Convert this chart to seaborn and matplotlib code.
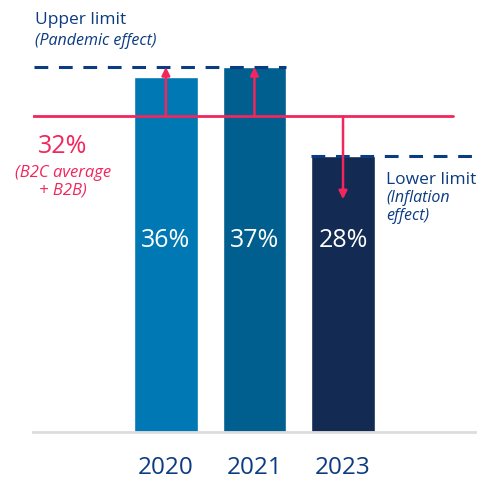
import matplotlib
matplotlib.use("Agg")
import matplotlib.pyplot as plt
import seaborn as sns
import pandas as pd

years = ["2020", "2021", "2023"]
values = [36, 37, 28]
bar_colors = ["#0078b4", "#005f8f", "#132a52"]
average = 32
upper_limit = 37
lower_limit = 28
down_arrow_end = 23.6

RED = "#f2255c"
BLUE = "#0b3b80"

sns.set_theme(style="white")
plt.rcParams['font.family'] = ['Open Sans', 'DejaVu Sans']

df = pd.DataFrame({"year": years, "value": values})

fig = plt.figure(figsize=(4.88, 4.79), dpi=100)
ax = fig.add_axes([33/488, 47/479, 442/488, 432/479])

sns.barplot(data=df, x="year", y="value", hue="year", palette=bar_colors,
            width=0.72, legend=False, ax=ax, saturation=1)

ax.set_xlim(-1.5, 3.49)
ax.set_ylim(0, 43.8)

for s in ["top", "right", "left"]:
    ax.spines[s].set_visible(False)
ax.spines["bottom"].set_color("#dddddd")
ax.spines["bottom"].set_linewidth(2)
ax.set_yticks([])
ax.set_xlabel("")
ax.set_ylabel("")
ax.tick_params(axis="x", length=0, pad=17, labelsize=17.5, labelcolor=BLUE)

# bar value labels
for i, v in enumerate(values):
    ax.text(i, 19.4, f"{v}%", ha="center", va="center", color="white", fontsize=18)

# dashed limit lines
ax.plot([-1.49, 1.36], [upper_limit, upper_limit], color=BLUE, lw=2.2,
        dashes=(4.5, 3.5), zorder=1)
ax.plot([1.64, 3.46], [lower_limit, lower_limit], color=BLUE, lw=2.2,
        dashes=(4.5, 3.5), zorder=3)

# average line
ax.plot([-1.5, 3.24], [average, average], color=RED, lw=2, zorder=4)

# arrows
arrow_kw = dict(arrowstyle="-|>", color=RED, lw=1.8, mutation_scale=12,
                shrinkA=0, shrinkB=0)
for i, tgt in [(0, upper_limit), (1, upper_limit), (2, down_arrow_end)]:
    ax.annotate("", xy=(i, tgt), xytext=(i, average), arrowprops=arrow_kw, zorder=5)

# annotations
ax.text(-1.48, 41.8, "Upper limit", color=BLUE, fontsize=12.5, ha="left", va="center")
ax.text(-1.48, 39.6, "(Pandemic effect)", color=BLUE, fontsize=11.5, style="italic",
        ha="left", va="center")

ax.text(-1.16, 28.9, "32%", color=RED, fontsize=18, ha="center", va="center")
ax.text(-1.16, 26.3, "(B2C average", color=RED, fontsize=12, style="italic",
        ha="center", va="center")
ax.text(-1.16, 24.5, "+ B2B)", color=RED, fontsize=12, style="italic",
        ha="center", va="center")

ax.text(2.49, 25.5, "Lower limit", color=BLUE, fontsize=12.5, ha="left", va="center")
ax.text(2.49, 23.7, "(Inflation", color=BLUE, fontsize=11.5, style="italic",
        ha="left", va="center")
ax.text(2.49, 21.9, "effect)", color=BLUE, fontsize=11.5, style="italic",
        ha="left", va="center")

fig.savefig("out.png", dpi=100)
